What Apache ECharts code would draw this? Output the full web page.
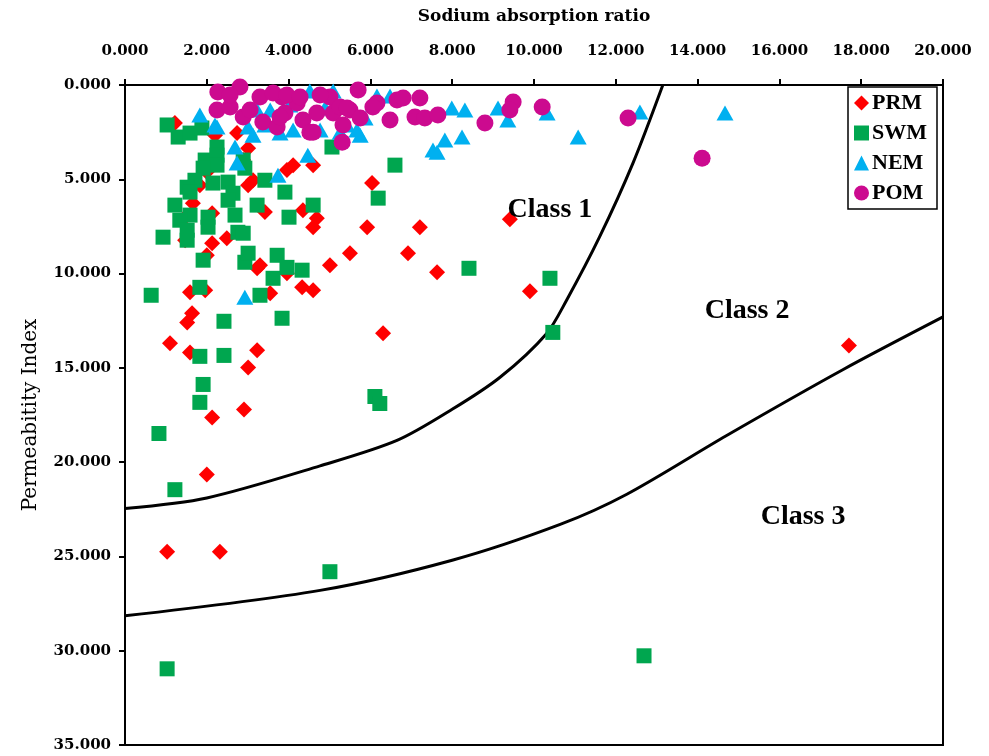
<!DOCTYPE html>
<html>
<head>
<meta charset="utf-8">
<script src="https://cdn.jsdelivr.net/npm/echarts@6/dist/echarts.min.js"></script>
<style>html,body{margin:0;padding:0;background:#fff}#c{width:989px;height:756px}</style>
</head>
<body>
<div id="c"></div>
<script>
var xTicks = [0, 2, 4, 6, 8, 10, 12, 14, 16, 18, 20];
var yTicks = [0, 5, 10, 15, 20, 25, 30, 35];

var PRM = [[1.22,2.02],[2.20,2.66],[2.74,2.55],[3.01,3.35],[2.89,3.98],[4.11,4.25],[3.96,4.51],[4.60,4.25],[2.00,4.62],[3.13,5.05],[3.01,5.31],[1.83,5.31],[6.04,5.20],[1.66,6.27],[1.47,7.01],[2.13,6.80],[3.42,6.74],[4.35,6.64],[4.69,7.06],[4.60,7.54],[5.92,7.54],[7.21,7.54],[2.13,8.39],[2.00,9.03],[1.47,8.23],[2.49,8.13],[5.50,8.92],[6.92,8.92],[3.30,9.56],[5.01,9.56],[7.63,9.93],[3.23,9.72],[3.96,9.98],[1.59,10.99],[1.96,10.89],[3.55,11.05],[4.33,10.73],[4.60,10.89],[1.64,12.11],[1.52,12.59],[1.10,13.70],[1.59,14.18],[3.23,14.07],[3.01,14.98],[6.31,13.17],[2.91,17.21],[2.13,17.63],[2.00,20.66],[1.03,24.75],[2.32,24.75],[9.41,7.12],[9.90,10.94],[17.70,13.81]];

var SWM = [[1.03,2.12],[1.30,2.76],[1.59,2.55],[1.88,2.28],[2.25,3.29],[1.96,3.98],[2.25,3.72],[2.25,4.25],[1.91,4.41],[2.89,3.98],[2.93,4.41],[1.71,5.05],[1.52,5.42],[1.59,5.68],[2.15,5.20],[2.52,5.15],[2.64,5.74],[2.52,6.11],[3.42,5.05],[3.91,5.68],[1.22,6.37],[1.59,6.90],[1.34,7.17],[1.52,7.70],[1.52,8.23],[2.03,7.01],[2.03,7.54],[2.69,6.90],[2.76,7.81],[2.89,7.86],[3.23,6.37],[4.01,7.01],[4.60,6.37],[6.19,6.00],[6.60,4.25],[5.06,3.29],[0.93,8.07],[1.91,9.29],[2.93,9.40],[3.01,8.92],[3.72,9.03],[3.96,9.67],[4.33,9.82],[3.62,10.25],[0.64,11.15],[1.83,10.73],[3.30,11.15],[2.42,12.53],[3.84,12.37],[1.83,14.39],[2.42,14.34],[1.91,15.88],[1.83,16.83],[0.83,18.48],[1.22,21.46],[1.03,30.96],[12.69,30.27],[6.11,16.52],[6.23,16.89],[5.01,25.81],[10.46,13.12],[10.39,10.25],[8.41,9.72]];

var NEM = [[1.83,1.59],[2.20,2.12],[2.25,2.23],[2.69,3.29],[2.74,4.14],[3.13,2.66],[3.23,1.33],[3.74,4.78],[4.47,3.72],[4.11,2.39],[4.52,0.32],[5.09,0.32],[5.67,2.39],[5.75,2.66],[6.16,0.58],[6.48,0.58],[7.53,3.45],[7.63,3.56],[7.82,2.92],[8.24,2.76],[7.99,1.22],[8.31,1.33],[9.12,1.22],[9.36,1.86],[10.32,1.49],[11.08,2.76],[12.59,1.43],[14.67,1.49],[2.93,11.26],[3.42,2.12],[3.79,2.55],[4.77,2.39],[5.26,2.50],[5.43,2.12],[3.55,1.33],[4.03,1.06],[4.89,1.22],[3.01,2.23],[5.87,1.75]];

var POM = [[2.27,0.37],[2.81,0.11],[2.25,1.33],[2.57,1.17],[2.89,1.70],[3.30,0.64],[3.37,1.96],[3.72,2.23],[3.84,0.64],[3.91,1.49],[4.21,0.96],[4.35,1.86],[4.52,2.50],[5.01,0.64],[5.09,1.49],[5.26,1.17],[5.33,2.12],[5.50,1.33],[5.70,0.27],[5.75,1.75],[6.16,0.96],[6.48,1.86],[6.65,0.80],[6.80,0.69],[7.09,1.70],[7.21,0.69],[7.33,1.75],[7.65,1.59],[8.80,2.02],[9.49,0.90],[9.41,1.33],[10.20,1.17],[12.30,1.75],[14.11,3.88],[5.31,3.03],[4.60,2.50],[3.62,0.42],[3.96,0.53],[4.28,0.64],[3.79,1.70],[4.69,1.49],[5.43,1.22],[6.06,1.17],[3.06,1.33],[2.57,0.53],[4.77,0.53]];

var boundary1 = [[0,22.46],[2,21.9],[4.77,20.2],[6.65,18.85],[8.0,17.2],[9.17,15.5],[10.3,13.2],[10.8,11.4],[11.6,8.07],[12.42,4.14],[13.15,0]];
var boundary2 = [[0,28.15],[4.77,26.8],[8.0,25.2],[10.64,23.3],[12.27,21.7],[14.7,18.6],[17.55,15.1],[20,12.3]];

var classLabels = [[10.39,6.59,'Class 1'],[15.21,11.95,'Class 2'],[16.58,22.89,'Class 3']];

var tickFont = {fontFamily:'DejaVu Serif', fontWeight:'bold', fontSize:15, color:'#000'};

var chart = echarts.init(document.getElementById('c'), null, {renderer:'canvas'});
chart.setOption({
  backgroundColor:'#fff',
  animation:false,
  grid:{left:125, right:46, top:85, bottom:11, show:true, borderColor:'#000', borderWidth:2, backgroundColor:'transparent'},
  legend:{
    data:[{name:'PRM',icon:'diamond'},{name:'SWM',icon:'rect'},{name:'NEM',icon:'triangle'},{name:'POM',icon:'circle'}],
    orient:'vertical', left:848, top:87,
    itemWidth:15, itemHeight:15, itemGap:8,
    padding:[5,10,5,6],
    borderColor:'#000', borderWidth:1.5, backgroundColor:'#fff',
    textStyle:{fontFamily:'Liberation Serif', fontWeight:'bold', fontSize:22, color:'#000', padding:[0,0,0,-2]}
  },
  xAxis:{
    type:'value', position:'top', min:xTicks[0], max:xTicks[xTicks.length-1], interval:xTicks[1]-xTicks[0],
    name:'Sodium absorption ratio', nameLocation:'middle', nameGap:60,
    nameTextStyle:{fontFamily:'DejaVu Serif', fontWeight:'bold', fontSize:17, color:'#000'},
    axisLine:{show:true, lineStyle:{color:'#000', width:2}},
    axisTick:{show:true, length:6, lineStyle:{color:'#000', width:2}},
    axisLabel:Object.assign({margin:26, formatter:function(v){return v.toFixed(3);}}, tickFont),
    splitLine:{show:false}
  },
  yAxis:{
    type:'value', inverse:true, min:yTicks[0], max:yTicks[yTicks.length-1], interval:yTicks[1]-yTicks[0],
    name:'Permeabitity Index', nameLocation:'middle', nameGap:84,
    nameTextStyle:{fontFamily:'DejaVu Serif', fontSize:20, color:'#000'},
    axisLine:{show:true, lineStyle:{color:'#000', width:2}},
    axisTick:{show:true, length:6, lineStyle:{color:'#000', width:2}},
    axisLabel:Object.assign({margin:14, formatter:function(v){return v.toFixed(3);}}, tickFont),
    splitLine:{show:false}
  },
  series:[
    {type:'line', name:'b1', data:boundary1, smooth:0.3, showSymbol:false, symbol:'none', lineStyle:{color:'#000', width:3}, silent:true, z:1},
    {type:'line', name:'b2', data:boundary2, smooth:0.3, showSymbol:false, symbol:'none', lineStyle:{color:'#000', width:3}, silent:true, z:1},
    {type:'scatter', name:'PRM', data:PRM, symbol:'diamond', symbolSize:16, itemStyle:{color:'#FF0000', opacity:1}, z:2},
    {type:'scatter', name:'SWM', data:SWM, symbol:'rect', symbolSize:15, itemStyle:{color:'#00A64F', opacity:1}, z:3},
    {type:'scatter', name:'NEM', data:NEM, symbol:'triangle', symbolSize:[17,15], itemStyle:{color:'#00B0F0', opacity:1}, z:4},
    {type:'scatter', name:'POM', data:POM, symbol:'circle', symbolSize:17, itemStyle:{color:'#CC0A8F', opacity:1}, z:5},
    {type:'scatter', name:'classes', data:classLabels, symbolSize:0, silent:true, z:6, itemStyle:{opacity:1},
      label:{show:true, position:'inside', opacity:1, formatter:function(p){return p.value[2];}, fontFamily:'Liberation Serif', fontWeight:'bold', fontSize:28, color:'#000', textBorderWidth:0}}
  ]
});
</script>
</body>
</html>
